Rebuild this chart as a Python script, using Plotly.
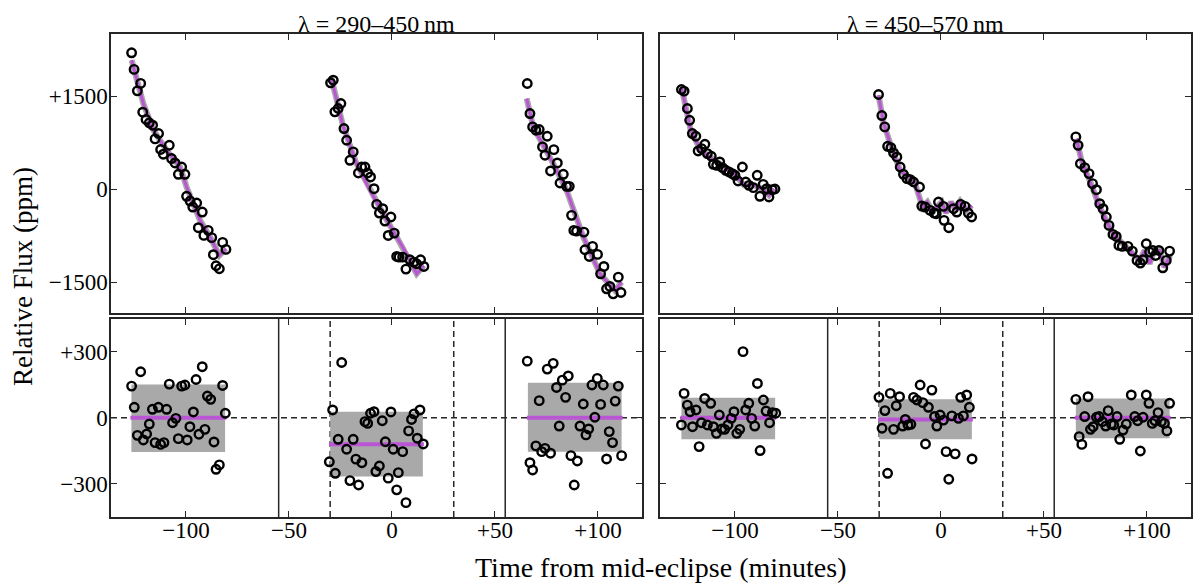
import plotly.graph_objects as go

# ---- data (time in minutes, flux in ppm) ----

# lambda = 290-450 nm, three visits: raw light curve
uv_t1 = [-126.4, -125.2, -123.6, -122.0, -121.0, -119.4, -117.8, -116.2, -115.0, -113.3, -112.3, -111.0,
         -108.1, -107.0, -105.3, -103.7, -102.1, -100.5, -99.7, -98.0, -96.7, -94.8, -92.1, -94.0, -91.3,
         -89.2, -87.5, -86.7, -85.4, -83.8, -82.2, -80.6]
uv_f1 = [2197, 1929, 1583, 1703, 1239, 1121, 1066, 1029, 808, 895, 637, 561, 706, 491, 420, 237, 355, 237,
         -118, -194, -291, -226, -372, -624, -748, -667, -785, -1060, -1238, -1286, -861, -974]
uv_t2 = [-29.8, -28.5, -27.7, -26.1, -24.8, -23.3, -22.0, -20.4, -18.8, -16.3, -14.7, -13.1, -11.8, -10.4,
         -8.7, -7.4, -6.1, -4.5, -3.4, -1.8, -0.5, 1.1, 2.3, 3.4, 5.2, 6.8, 8.7, 10.7, 12.0, 13.9, 15.5]
uv_f2 = [1712, 1755, 1244, 1298, 1379, 975, 786, 463, 598, 258, 355, 355, 258, 194, 5, -248, -388, -318,
         -517, -749, -452, -711, -1088, -1099, -1099, -1292, -1142, -1179, -1206, -1142, -1249]
uv_t3 = [65.7, 67.0, 68.3, 69.9, 71.5, 73.1, 75.4, 74.3, 77.0, 78.6, 80.3, 81.6, 83.2, 84.8, 86.1, 87.2,
         88.3, 89.6, 93.2, 93.7, 95.8, 97.4, 99.8, 101.3, 102.9, 104.2, 105.8, 107.4, 109.9, 111.2]
uv_f3 = [1702, 1217, 1002, 948, 959, 679, 851, 544, 291, 635, 420, 97, 237, 43, 43, -425, -668, -679,
         -695, -980, -1088, -926, -1055, -1368, -1249, -1610, -1572, -1691, -1422, -1669]

# lambda = 290-450 nm: best-fit model
uv_mt1 = [-126.4, -120.7, -115.8, -109.4, -102.9, -99.7, -93.2, -88.3, -83.8, -80.6]
uv_mf1 = [2079, 1379, 948, 625, 355, 32, -505, -775, -1071, -963]
uv_mt2 = [-29.6, -23.6, -17.2, -10.7, -3.4, 2.3, 7.1, 12.0, 15.5]
uv_mf2 = [1809, 1002, 409, -22, -452, -775, -1045, -1368, -1233]
uv_mt3 = [65.4, 68.6, 78.3, 84.8, 92.9, 101.0, 108.3, 111.5]
uv_mf3 = [1459, 1002, 409, -22, -775, -1368, -1637, -1502]

# lambda = 290-450 nm: residuals
uv_rt1 = [-126.4, -125.1, -122.0, -123.6, -120.7, -119.1, -117.8, -116.3, -115.0, -113.4, -112.3, -110.7,
          -109.4, -108.1, -106.5, -104.9, -103.7, -102.1, -100.5, -99.4, -98.1, -96.4, -95.1, -93.7, -92.1,
          -90.8, -89.6, -88.0, -86.4, -85.4, -83.8, -82.2, -80.9]
uv_r1 = [143, 47, 208, -80, -101, -74, -29, 38, -113, 47, -121, -113, 38, 152, -23, -3, -95, 143, 148, -101,
         -41, 26, 173, -75, 231, -53, 98, 83, -110, -234, -214, 146, 20]
uv_rt2 = [-28.8, -24.4, -26.1, -22.0, -18.8, -30.4, -27.5, -20.4, -17.5, -16.2, -14.6, -13.1, -11.8, -10.4,
          -8.7, -7.8, -6.1, -4.7, -3.2, -1.8, -0.5, 0.6, 2.3, 3.1, 5.2, 6.8, 8.1, 9.5, 10.7, 12.3, 13.6, 15.2]
uv_r2 = [35, 250, -98, -143, -98, -200, -252, -285, -188, -305, -204, -18, -26, 20, 27, -244, -219, -14,
         -109, -274, 26, -143, -327, -249, -154, -385, -60, -8, 17, -93, 35, -119]
uv_rt3 = [65.7, 67.0, 68.3, 69.9, 71.5, 72.7, 74.3, 75.4, 77.0, 78.3, 79.9, 81.2, 82.7, 84.3, 85.6, 86.9,
          88.5, 90.0, 91.3, 92.9, 94.2, 95.5, 97.1, 98.5, 99.7, 101.3, 102.6, 104.2, 105.5, 107.1, 108.4,
          109.9, 111.5]
uv_r3 = [256, -204, -237, -128, 77, -154, -139, 220, -161, 246, 137, -38, 170, 92, 189, -172, -305, -196,
         -38, 62, -78, -51, 148, 2, 178, 60, 148, -187, -63, -113, 75, 143, -172]

# lambda = 290-450 nm: fitted offset per visit and 1-sigma band
uv_span = [[-127.0, -80.5], [-30.5, 15.5], [65.5, 112.0]]
uv_level = [0, -120, 0]
uv_band_lo = [-155, -267, -154]
uv_band_hi = [150, 27, 158]

# lambda = 450-570 nm: raw light curve
vis_t1 = [-126.0, -124.7, -123.1, -122.0, -120.7, -119.0, -117.9, -114.6, -116.2, -113.4, -111.5, -110.5,
          -108.9, -107.4, -106.1, -104.5, -102.9, -101.3, -100.0, -98.5, -96.4, -94.8, -93.2, -91.1, -89.2,
          -87.9, -86.3, -84.6, -83.5, -81.9, -80.6]
vis_f1 = [1605, 1578, 1298, 1109, 894, 851, 614, 722, 652, 571, 528, 398, 382, 436, 345, 302, 275, 248,
          221, 129, 355, 113, 59, 22, 221, -118, 75, 5, -129, -11, 0]
vis_t2 = [-30.3, -28.7, -27.3, -25.9, -24.3, -23.0, -21.4, -19.8, -18.2, -16.5, -14.9, -13.3, -10.4, -9.3,
          -7.7, -5.2, -3.3, -1.2, -2.3, 1.2, 1.5, 3.8, 6.1, 7.7, 9.6, 11.7, 13.3, 14.9]
vis_f2 = [1524, 1185, 1002, 689, 668, 582, 517, 355, 237, 167, 151, 113, 32, -275, -291, -345, -388, -210,
          -398, -280, -506, -625, -318, -372, -248, -280, -388, -452]
vis_t3 = [65.5, 66.6, 67.7, 69.8, 71.9, 73.6, 75.5, 77.1, 78.7, 80.3, 81.6, 83.5, 85.1, 86.4, 88.0, 90.8,
          92.9, 95.2, 96.8, 98.1, 99.7, 101.3, 102.9, 104.2, 105.8, 107.7, 109.4, 111.0]
vis_f3 = [840, 705, 409, 345, 248, 86, -11, -237, -318, -452, -587, -732, -765, -910, -926, -926, -1002,
          -1152, -1195, -1142, -883, -1018, -991, -1072, -991, -1271, -1152, -1002]

# lambda = 450-570 nm: best-fit model
vis_mt1 = [-126.0, -121.5, -116.7, -110.2, -100.5, -95.6, -90.8, -86.8, -83.5, -81.1]
vis_mf1 = [1648, 948, 625, 463, 248, 59, 59, 5, -102, 5]
vis_mt2 = [-30.3, -27.8, -23.0, -19.8, -12.6, -8.9, -6.6, -4.0, -1.2, 0.4, 2.4, 4.9, 6.9, 9.3, 12.5, 14.9]
vis_mf2 = [1513, 1055, 571, 302, 86, -291, -210, -372, -264, -210, -388, -210, -318, -194, -345, -264]
vis_mt3 = [65.8, 68.2, 72.2, 77.1, 83.5, 91.6, 96.5, 98.9, 101.3, 103.7, 106.1, 108.5, 111.3]
vis_mf3 = [813, 463, 140, -291, -722, -991, -1152, -991, -1206, -991, -991, -1260, -1072]

# lambda = 450-570 nm: residuals
vis_rt1 = [-126.0, -124.7, -123.1, -121.8, -120.6, -118.9, -117.4, -116.3, -114.7, -113.4, -111.8, -110.5,
           -109.0, -107.6, -106.4, -105.0, -103.4, -101.8, -100.5, -99.1, -97.7, -96.1, -94.8, -93.3, -91.9,
           -90.4, -89.1, -87.8, -86.2, -84.9, -83.2, -81.8, -80.2]
vis_r1 = [-33, 110, 57, 27, -41, 35, -131, -23, 87, -33, 65, -41, -71, 12, -51, -53, -33, -3, 27, -71, -53,
          299, 35, 65, -3, -38, 155, -149, 80, 30, -23, 23, 20]
vis_rt2 = [-30.1, -28.6, -27.2, -25.9, -24.6, -23.0, -21.7, -20.1, -18.6, -17.3, -16.0, -14.6, -13.3, -11.7,
           -10.1, -8.8, -7.5, -6.1, -4.4, -3.1, -2.0, -0.4, 1.2, 2.5, 3.8, 5.3, 6.9, 8.5, 9.6, 10.9, 12.5,
           13.8, 15.1]
vis_r2 = [92, -48, 32, -252, 110, -53, 54, 95, -38, -8, -33, -30, 92, 80, 148, 68, -119, 47, 125, 5, -38,
          12, -11, -154, -279, 8, -164, -3, 92, 8, 103, 47, -187]
vis_rt3 = [65.5, 67.1, 68.4, 69.8, 71.4, 72.6, 73.9, 75.5, 76.8, 78.4, 80.0, 81.2, 82.7, 83.9, 85.5, 86.8,
           88.4, 90.0, 92.4, 94.1, 95.5, 96.8, 98.1, 99.7, 101.0, 102.6, 103.9, 105.4, 107.0, 108.5, 109.7,
           111.0]
vis_r3 = [83, -86, -121, 5, 95, -53, -41, 2, 5, -18, -38, 32, -29, -33, 5, -98, -56, -29, 103, 5, -14, -151,
          2, 103, 65, -26, -14, 23, -18, -26, -60, 65]

# lambda = 450-570 nm: fitted offset per visit and 1-sigma band
vis_span = [[-126.5, -80.0], [-30.5, 15.5], [65.0, 111.5]]
vis_level = [0, -8, 0]
vis_band_lo = [-98, -98, -93]
vis_band_hi = [90, 83, 87]

# gaps between visits and eclipse contacts
visit_breaks = [-55, 55]
contacts = [-30, 30]

titles = ['λ = 290–450\u2009nm', 'λ = 450–570\u2009nm']
x_ticks = [-100, -50, 0, 50, 100]
x_ticklabels = ['−100', '−50', '0', '+50', '+100']
top_ticks = [-1500, 0, 1500]
top_ticklabels = ['−1500', '0', '+1500']
res_ticks = [-300, 0, 300]
res_ticklabels = ['−300', '0', '+300']

PURPLE = '#BA55D3'
GREY = '#A9A9A9'
FRAME = '#262626'
FONT = 'Liberation Serif'

# the page body adds an 8px margin, so the figure is drawn 8px in from the corner
OFF = 8
FW, FH = 1195, 575


def px_x(p):
    '''window pixel column -> paper x'''
    return (p - OFF) / FW


def px_y(p):
    '''window pixel row -> paper y'''
    return 1 - (p - OFF) / FH


def add_light_curve(fig, xa, ya, times, fluxes, mtimes, mfluxes):
    '''Open circles for the data, grey uncertainty and purple model on top'''
    for mt, mf in zip(mtimes, mfluxes):
        fig.add_trace(go.Scatter(x=mt, y=mf, mode='lines', xaxis=xa, yaxis=ya,
                                 line=dict(color=GREY, width=6), hoverinfo='skip'))
        fig.add_trace(go.Scatter(x=mt, y=mf, mode='lines', xaxis=xa, yaxis=ya,
                                 line=dict(color=PURPLE, width=3)))
    for t, f in zip(times, fluxes):
        fig.add_trace(go.Scatter(x=t, y=f, mode='markers', xaxis=xa, yaxis=ya,
                                 marker=dict(symbol='circle-open', size=8.5, color='black',
                                             line=dict(width=2.4, color='black'))))


def add_residuals(fig, xa, ya, times, resid, span, level, lo, hi):
    '''Residuals with the 1-sigma grey band and the fitted visit offset'''
    for sp, lv, l, h in zip(span, level, lo, hi):
        bx = [sp[0] + 0.5, sp[1] - 0.5]
        fig.add_trace(go.Scatter(x=bx, y=[l, l], mode='lines', xaxis=xa, yaxis=ya,
                                 line=dict(width=0, color=GREY), hoverinfo='skip'))
        fig.add_trace(go.Scatter(x=bx, y=[h, h], mode='lines', xaxis=xa, yaxis=ya,
                                 line=dict(width=0, color=GREY), fill='tonexty',
                                 fillcolor=GREY, hoverinfo='skip'))
        fig.add_trace(go.Scatter(x=sp, y=[lv, lv], mode='lines', xaxis=xa, yaxis=ya,
                                 line=dict(color=PURPLE, width=4)))
    for t, r in zip(times, resid):
        fig.add_trace(go.Scatter(x=t, y=r, mode='markers', xaxis=xa, yaxis=ya,
                                 marker=dict(symbol='circle-open', size=8.5, color='black',
                                             line=dict(width=2.4, color='black'))))


def add_guides(fig, xr, yr):
    '''Dashed zero level, solid visit breaks and dashed contact times'''
    fig.add_shape(type='line', xref=xr + ' domain', yref=yr, x0=0, x1=1, y0=0, y1=0,
                  line=dict(color=FRAME, width=1.5, dash='6px,4px'), layer='below')
    for b in visit_breaks:
        fig.add_shape(type='line', xref=xr, yref=yr + ' domain', x0=b, x1=b, y0=0, y1=1,
                      line=dict(color=FRAME, width=1.5), layer='below')
    for c in contacts:
        fig.add_shape(type='line', xref=xr, yref=yr + ' domain', x0=c, x1=c, y0=0, y1=1,
                      line=dict(color=FRAME, width=1.5, dash='6px,4px'), layer='below')


fig = go.Figure()

add_light_curve(fig, 'x', 'y', [uv_t1, uv_t2, uv_t3], [uv_f1, uv_f2, uv_f3],
                [uv_mt1, uv_mt2, uv_mt3], [uv_mf1, uv_mf2, uv_mf3])
add_residuals(fig, 'x2', 'y2', [uv_rt1, uv_rt2, uv_rt3], [uv_r1, uv_r2, uv_r3],
              uv_span, uv_level, uv_band_lo, uv_band_hi)
add_light_curve(fig, 'x3', 'y3', [vis_t1, vis_t2, vis_t3], [vis_f1, vis_f2, vis_f3],
                [vis_mt1, vis_mt2, vis_mt3], [vis_mf1, vis_mf2, vis_mf3])
add_residuals(fig, 'x4', 'y4', [vis_rt1, vis_rt2, vis_rt3], [vis_r1, vis_r2, vis_r3],
              vis_span, vis_level, vis_band_lo, vis_band_hi)

add_guides(fig, 'x2', 'y2')
add_guides(fig, 'x4', 'y4')

# panel positions, in window pixels of the reference
left_dom = [px_x(111), px_x(642)]
right_dom = [px_x(660), px_x(1191)]
top_dom = [px_y(313), px_y(34)]
bot_dom = [px_y(517), px_y(319)]

common = dict(showline=True, mirror='ticks', linecolor=FRAME, linewidth=1.5,
              ticks='inside', ticklen=6, tickwidth=1.2, tickcolor=FRAME,
              showgrid=False, zeroline=False, tickfont=dict(family=FONT, size=23, color='black'))
xcommon = dict(common, range=[-136.4, 121.4], tickvals=x_ticks, ticktext=x_ticklabels)

fig.update_layout(
    width=FW, height=FH,
    margin=dict(l=0, r=0, t=0, b=0),
    paper_bgcolor='white', plot_bgcolor='white',
    showlegend=False,
    font=dict(family=FONT, color='black'),
    xaxis=dict(xcommon, domain=left_dom, anchor='y', showticklabels=False),
    yaxis=dict(common, domain=top_dom, anchor='x', range=[-2000, 2500],
               tickvals=top_ticks, ticktext=top_ticklabels, ticklabelstandoff=-3),
    xaxis2=dict(xcommon, domain=left_dom, anchor='y2', ticklabelstandoff=-8),
    yaxis2=dict(common, domain=bot_dom, anchor='x2', range=[-450, 447],
                tickvals=res_ticks, ticktext=res_ticklabels, ticklabelstandoff=-3),
    xaxis3=dict(xcommon, domain=right_dom, anchor='y3', showticklabels=False),
    yaxis3=dict(common, domain=top_dom, anchor='x3', range=[-2000, 2500],
                tickvals=top_ticks, showticklabels=False),
    xaxis4=dict(xcommon, domain=right_dom, anchor='y4', ticklabelstandoff=-8),
    yaxis4=dict(common, domain=bot_dom, anchor='x4', range=[-450, 447],
                tickvals=res_ticks, showticklabels=False),
)

# panel titles and shared axis labels
for txt, dom in zip(titles, [left_dom, right_dom]):
    fig.add_annotation(text=txt, xref='paper', yref='paper', x=sum(dom) / 2, y=px_y(24),
                       xanchor='center', yanchor='middle', showarrow=False,
                       font=dict(family=FONT, size=24, color='black'))
fig.add_annotation(text='Time from mid-eclipse (minutes)', xref='paper', yref='paper',
                   x=px_x(660), y=px_y(567), xanchor='center', yanchor='middle', showarrow=False,
                   font=dict(family=FONT, size=28, color='black'))
fig.add_annotation(text='Relative Flux (ppm)', xref='paper', yref='paper',
                   x=px_x(23), y=px_y(277), xanchor='center', yanchor='middle', showarrow=False,
                   textangle=-90, font=dict(family=FONT, size=27, color='black'))

fig.write_html("out.html")
